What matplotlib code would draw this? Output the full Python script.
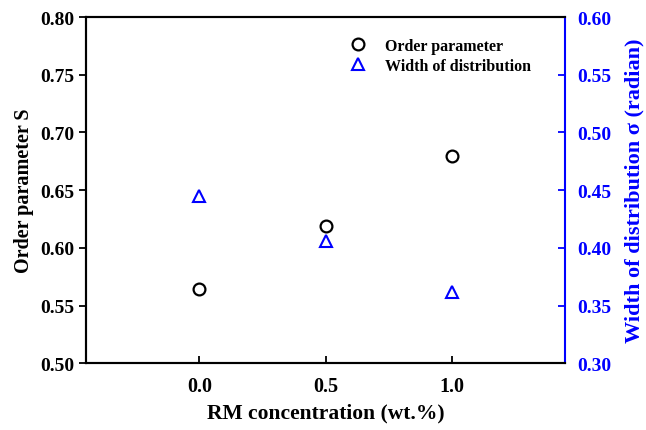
import matplotlib
matplotlib.use("Agg")
import matplotlib.pyplot as plt

rm_conc = [0.0, 0.5, 1.0]
order_param = [0.564, 0.619, 0.680]
width_sigma = [0.445, 0.406, 0.362]
x_ticks = [0.0, 0.5, 1.0]
left_ticks = [0.50, 0.55, 0.60, 0.65, 0.70, 0.75, 0.80]
right_ticks = [0.30, 0.35, 0.40, 0.45, 0.50, 0.55, 0.60]

plt.rcParams['font.family'] = ['Liberation Serif', 'DejaVu Serif']
plt.rcParams['font.weight'] = 'bold'

fig = plt.figure(figsize=(6.46, 4.31), dpi=100)
ax = fig.add_axes([0.133, 0.155, 0.742, 0.803])
ax2 = ax.twinx()

h1, = ax.plot(rm_conc, order_param, 'o', ms=8.5, mfc='none', mec='black', mew=1.6, ls='none', label='Order parameter')
h2, = ax2.plot(rm_conc, width_sigma, '^', ms=8.5, mfc='none', mec='blue', mew=1.5, ls='none', label='Width of distribution')

ax.set_xlim(-0.45, 1.45)
ax.set_ylim(0.50, 0.80)
ax2.set_ylim(0.30, 0.60)
ax.set_xticks(x_ticks)
ax.set_xticklabels([f"{v:.1f}" for v in x_ticks])
ax.set_yticks(left_ticks)
ax.set_yticklabels([f"{v:.2f}" for v in left_ticks])
ax2.set_yticks(right_ticks)
ax2.set_yticklabels([f"{v:.2f}" for v in right_ticks])

for sp in ax.spines.values():
    sp.set_linewidth(1.5)
for sp in ax2.spines.values():
    sp.set_linewidth(1.5)
ax2.spines['right'].set_color('blue')
ax.spines['right'].set_visible(False)

ax.tick_params(axis='y', direction='out', length=5, width=1.3, labelsize=14, pad=3)
ax.tick_params(axis='x', direction='in', length=5, width=1.3, labelsize=14.5, pad=9)
ax2.tick_params(axis='y', direction='in', length=5, width=1.3, labelsize=14, colors='blue', pad=9)

ax.set_xlabel('RM concentration (wt.%)', fontsize=15.5, fontweight='bold', labelpad=5)
ax.set_ylabel('Order parameter S', fontsize=14.5, fontweight='bold', labelpad=5)
ax2.set_ylabel('Width of distribution σ (radian)', fontsize=16, fontweight='bold', color='blue', labelpad=9)

leg = ax.legend([h1, h2], ['Order parameter', 'Width of distribution'], loc='upper left',
                bbox_to_anchor=(0.505, 0.982), frameon=False, handletextpad=0.7,
                labelspacing=0.25, prop={'weight': 'bold', 'size': 11.5})

fig.savefig('out.png', dpi=100)
